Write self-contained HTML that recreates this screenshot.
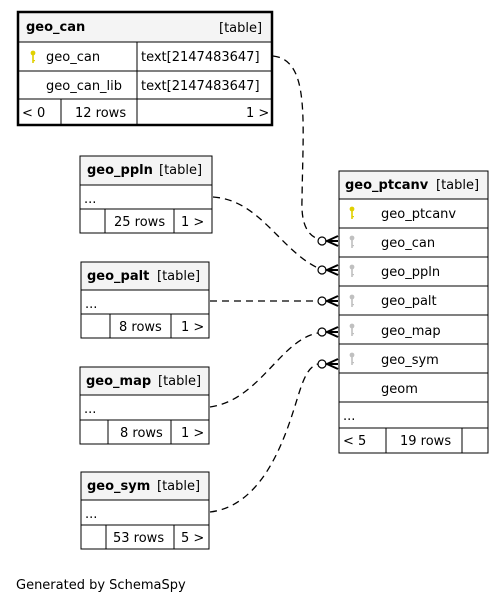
<!DOCTYPE html>
<html><head><meta charset="utf-8"><style>
html,body{margin:0;padding:0;background:#fff}
svg{display:block}
text{font-family:"DejaVu Sans","Liberation Sans",sans-serif;font-size:13px;fill:#000}
.b{font-weight:bold}
</style></head><body>
<svg width="504" height="604" viewBox="0 0 504 604" xmlns="http://www.w3.org/2000/svg">
<defs>
<g id="key"><circle cx="0" cy="-3" r="2.4"/><rect x="-0.8" y="-1" width="1.6" height="8"/><rect x="0" y="4" width="2" height="1.2"/></g>
</defs>
<g fill="none" stroke="#000" stroke-width="1.3" stroke-dasharray="7,5">
<path d="M273,56 C310,60 303,120 302,200 C301,225 308,235 318,239"/>
<path d="M213,197 C260,200 280,250 318,268"/>
<path d="M210,301 L318,301"/>
<path d="M210,407 C260,400 280,340 318,333"/>
<path d="M210,512 C270,505 290,420 300,390 C305,375 310,366 318,364"/>
</g>
<g fill="#fff" stroke="#000" stroke-width="1.2">
<circle cx="322" cy="241" r="4"/><circle cx="322" cy="270" r="4"/><circle cx="322" cy="301" r="4"/><circle cx="322" cy="332" r="4"/><circle cx="322" cy="364" r="4"/>
</g>
<g stroke="#000" stroke-width="2" fill="none">
<path d="M338,236 L327,241 L338,246 M327,241 L338,241"/>
<path d="M338,265 L327,270 L338,275 M327,270 L338,270"/>
<path d="M338,296 L327,301 L338,306 M327,301 L338,301"/>
<path d="M338,327 L327,332 L338,337 M327,332 L338,332"/>
<path d="M338,359 L327,364 L338,369 M327,364 L338,364"/>
</g>

<!-- geo_can -->
<rect x="18" y="12" width="254" height="30" fill="#f4f4f4"/>
<g stroke="#000" fill="none" stroke-width="1">
<line x1="18" y1="42" x2="272" y2="42"/><line x1="18" y1="71" x2="272" y2="71"/><line x1="18" y1="99" x2="272" y2="99"/>
<line x1="137" y1="42" x2="137" y2="125"/><line x1="61" y1="99" x2="61" y2="125"/>
<rect x="18" y="12" width="254" height="113" stroke-width="2.5"/>
</g>
<text x="26" y="31" class="b">geo_can</text><text x="219" y="32">[table]</text>
<g fill="#e0d000"><use href="#key" x="33" y="56"/></g>
<text x="46" y="61">geo_can</text><text x="141" y="61">text[2147483647]</text>
<text x="46" y="90">geo_can_lib</text><text x="141" y="90">text[2147483647]</text>
<text x="22" y="117">&lt; 0</text><text x="75" y="117">12 rows</text><text x="246" y="117">1 &gt;</text>

<!-- small tables -->
<g stroke="#000" stroke-width="1">
<rect x="80" y="156" width="132" height="29" fill="#f4f4f4"/><rect x="80" y="156" width="132" height="77" fill="none"/>
<line x1="80" y1="185" x2="212" y2="185"/><line x1="80" y1="209" x2="212" y2="209"/><line x1="105" y1="209" x2="105" y2="233"/><line x1="174" y1="209" x2="174" y2="233"/>
<rect x="81" y="262" width="128" height="28" fill="#f4f4f4"/><rect x="81" y="262" width="128" height="76" fill="none"/>
<line x1="81" y1="290" x2="209" y2="290"/><line x1="81" y1="314" x2="209" y2="314"/><line x1="110" y1="314" x2="110" y2="338"/><line x1="171" y1="314" x2="171" y2="338"/>
<rect x="80" y="367" width="129" height="28" fill="#f4f4f4"/><rect x="80" y="367" width="129" height="77" fill="none"/>
<line x1="80" y1="395" x2="209" y2="395"/><line x1="80" y1="420" x2="209" y2="420"/><line x1="108" y1="420" x2="108" y2="444"/><line x1="171" y1="420" x2="171" y2="444"/>
<rect x="81" y="472" width="128" height="28" fill="#f4f4f4"/><rect x="81" y="472" width="128" height="77" fill="none"/>
<line x1="81" y1="500" x2="209" y2="500"/><line x1="81" y1="525" x2="209" y2="525"/><line x1="106" y1="525" x2="106" y2="549"/><line x1="174" y1="525" x2="174" y2="549"/>
</g>
<text x="87" y="174" class="b">geo_ppln</text><text x="159" y="174">[table]</text>
<text x="84" y="203">...</text><text x="114" y="226">25 rows</text><text x="181" y="226">1 &gt;</text>
<text x="87" y="280" class="b">geo_palt</text><text x="157" y="280">[table]</text>
<text x="85" y="308">...</text><text x="119" y="331">8 rows</text><text x="181" y="331">1 &gt;</text>
<text x="86" y="385" class="b">geo_map</text><text x="158" y="385">[table]</text>
<text x="84" y="413">...</text><text x="120" y="437">8 rows</text><text x="181" y="437">1 &gt;</text>
<text x="87" y="490" class="b">geo_sym</text><text x="157" y="490">[table]</text>
<text x="85" y="518">...</text><text x="113" y="542">53 rows</text><text x="181" y="542">5 &gt;</text>

<!-- geo_ptcanv -->
<g stroke="#000" stroke-width="1">
<rect x="339" y="171" width="149" height="28" fill="#f4f4f4"/><rect x="339" y="171" width="149" height="282" fill="none"/>
<line x1="339" y1="199" x2="488" y2="199"/><line x1="339" y1="228" x2="488" y2="228"/><line x1="339" y1="257" x2="488" y2="257"/>
<line x1="339" y1="286" x2="488" y2="286"/><line x1="339" y1="315" x2="488" y2="315"/><line x1="339" y1="344" x2="488" y2="344"/>
<line x1="339" y1="373" x2="488" y2="373"/><line x1="339" y1="402" x2="488" y2="402"/><line x1="339" y1="428" x2="488" y2="428"/>
<line x1="386" y1="428" x2="386" y2="453"/><line x1="462" y1="428" x2="462" y2="453"/>
</g>
<text x="345" y="189" class="b">geo_ptcanv</text><text x="436" y="189">[table]</text>
<g fill="#e0d000"><use href="#key" x="352" y="212"/></g>
<g fill="#c0c0c0"><use href="#key" x="352" y="241"/><use href="#key" x="352" y="270"/><use href="#key" x="352" y="300"/><use href="#key" x="352" y="329"/><use href="#key" x="352" y="358"/></g>
<text x="381" y="218">geo_ptcanv</text><text x="381" y="247">geo_can</text><text x="381" y="276">geo_ppln</text>
<text x="381" y="305">geo_palt</text><text x="381" y="335">geo_map</text><text x="381" y="364">geo_sym</text>
<text x="381" y="393">geom</text><text x="343" y="420">...</text>
<text x="343" y="445">&lt; 5</text><text x="400" y="445">19 rows</text>

<text x="16" y="589">Generated by SchemaSpy</text>
</svg>
</body></html>
